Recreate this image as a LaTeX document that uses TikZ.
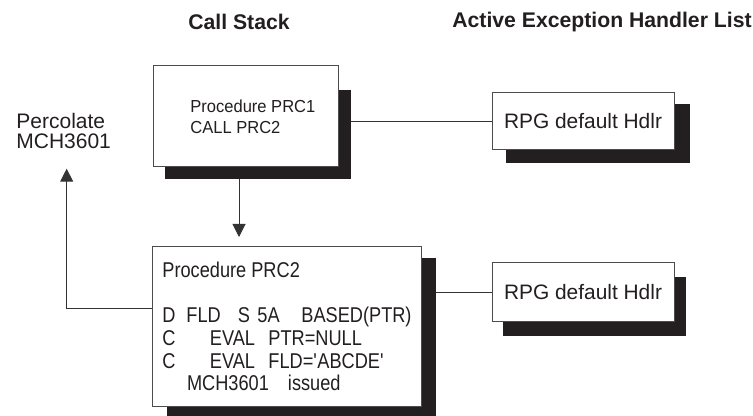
\documentclass[tikz,border=0pt]{standalone}
\usepackage{fontspec}
\setmainfont{Liberation Sans}
\newfontfamily\narrowfont{Liberation Sans}[FakeStretch=0.85]
\newfontfamily\slimfont{Liberation Sans}[FakeStretch=0.95]
\usetikzlibrary{arrows.meta,positioning,calc,backgrounds}
\definecolor{ink}{HTML}{231F20}
\newcommand{\codecol}[2]{\makebox[#1][l]{#2}}

\begin{document}
\begin{tikzpicture}[x=0.5pt,y=-0.5pt] % one unit is one pixel of the drawing, y runs downwards
\tikzset{stackbox/.style={draw=black!70, line width=0.5pt, fill=white, outer sep=0pt, inner sep=0pt, anchor=north west}} % frames of the stack entries
\tikzset{handlerbox/.style={stackbox, text=ink, font=\fontsize{10.45}{12}\selectfont}} % frames of the handler list
\tikzset{boxshade/.style={fill=ink}} % black drop shadow
\tikzset{heading/.style={text=ink, font=\bfseries\fontsize{10.6}{12}\selectfont}}
\tikzset{slimtext/.style={text=ink, align=left, inner sep=0pt, font=\slimfont\fontsize{8.7}{10.5}\selectfont}}
\tikzset{codetext/.style={text=ink, align=left, inner sep=0pt, font=\narrowfont\fontsize{10.7}{11.3}\selectfont}}
\tikzset{link/.style={draw=black!80, line width=0.5pt}}
\tikzset{flow/.style={link, -{Triangle[length=6.5pt,width=6.5pt]}}}
\useasboundingbox (0,0) rectangle (753,416);

\node[heading] (callstack) at (239,22) {Call Stack};
\node[heading] (handlers) at (602,22) {Active Exception Handler List};

% the two procedures on the call stack
\node[stackbox, minimum width=92.5pt, minimum height=50.5pt] (prc1) at (153,66) {};
\node[slimtext, right=18.5pt of prc1.west] (prc1txt) {Procedure PRC1\\CALL PRC2};
\node[stackbox, minimum width=134.5pt, minimum height=79.5pt] (prc2) at (152,247) {};
\node[codetext, right=5pt of prc2.west] (prc2txt) {Procedure PRC2\\[11.3pt]
  \codecol{12pt}{D}\codecol{25.75pt}{FLD}\codecol{9.75pt}{S}\codecol{22pt}{5A}BASED(PTR)\\
  \codecol{23.75pt}{C}\codecol{29.25pt}{EVAL}PTR=NULL\\
  \codecol{23.75pt}{C}\codecol{29.25pt}{EVAL}FLD=\textquotesingle ABCDE\textquotesingle\\
  \hspace*{12.3pt}\codecol{50.5pt}{MCH3601}issued};

% handlers
\node[handlerbox, minimum width=91pt, minimum height=28.5pt] (rpg1) at (492,93) {RPG default Hdlr};
\node[handlerbox, minimum width=91pt, minimum height=29pt] (rpg2) at (492,263) {RPG default Hdlr};

\node[text=ink, anchor=west, align=left, inner sep=0pt, font=\fontsize{10.5}{9.6}\selectfont] (perc) at (16,131) {Percolate\\MCH3601};

\begin{scope}[on background layer]
\fill[boxshade] ($(prc1.south west)+(12,12)$) rectangle ($(prc1.north east)+(13,24)$);
\fill[boxshade] ($(prc2.south west)+(15,15)$) rectangle ($(prc2.north east)+(15,11)$);
\fill[boxshade] ($(rpg1.south west)+(14,13)$) rectangle ($(rpg1.north east)+(16,11)$);
\fill[boxshade] ($(rpg2.south west)+(11,15)$) rectangle ($(rpg2.north east)+(12,14)$);
\end{scope}

\draw[flow] ($(prc1.south west)+(86,12)$) -- ($(prc2.north west)+(87,-10)$);
\draw[flow] ($(prc2.west)+(0,-18.5)$) -| ($(perc.south)+(3,20)$);
\draw[link] (rpg1.west) -- ($(prc1.east |- rpg1.west)+(13,0)$);
\draw[link] (rpg2.west) -- ($(prc2.east |- rpg2.west)+(15,0)$);
\end{tikzpicture}
\end{document}
